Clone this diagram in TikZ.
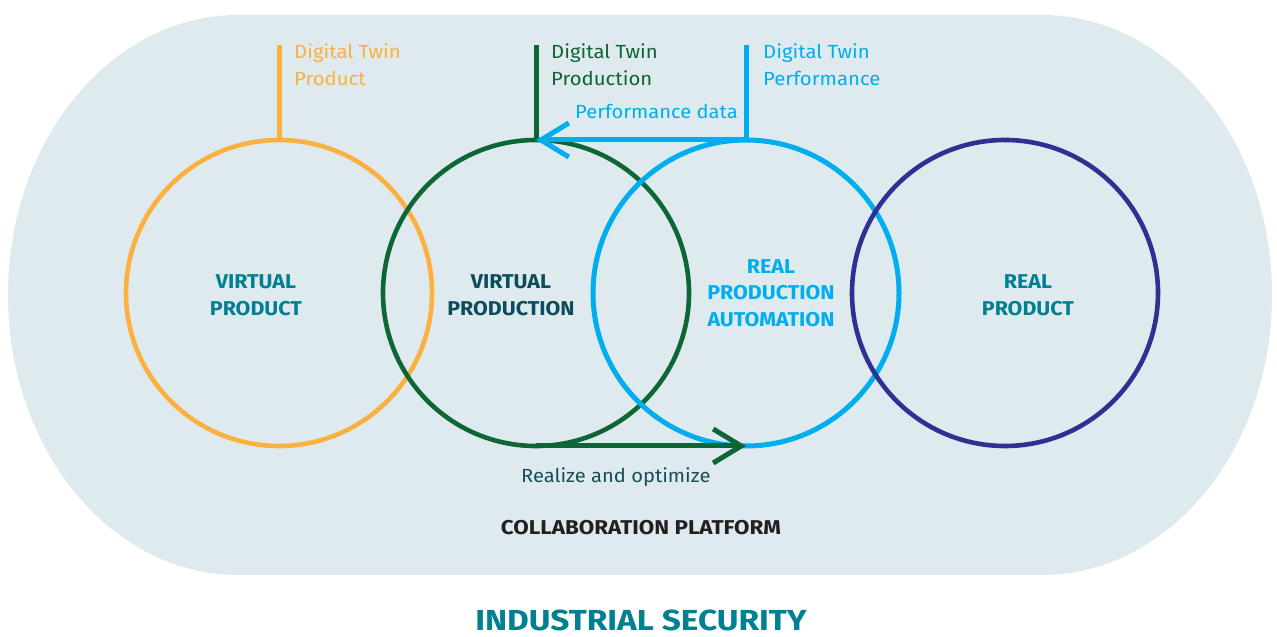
\documentclass[tikz,border=0pt]{standalone}
\usepackage{fontspec}
\setmainfont{Fira Sans}
\usetikzlibrary{arrows.meta}
\definecolor{bgc}{HTML}{DFEAEE}
\definecolor{orng}{HTML}{FBB040}
\definecolor{grn}{HTML}{0E6536}
\definecolor{lblue}{HTML}{00AEEF}
\definecolor{navy}{HTML}{2E3192}
\definecolor{teal}{HTML}{008091}
\definecolor{dteal}{HTML}{0B4D5A}
\definecolor{rteal}{HTML}{184E5A}
\definecolor{dark}{HTML}{231F20}
\tikzset{
  ring/.style={line width=4.6pt},
  stem/.style={line width=5pt},
  twinlabel/.style={anchor=north west, inner sep=0pt, align=left, font=\fontsize{19}{27}\selectfont\addfontfeatures{FakeStretch=1.07}},
  smalltext/.style={inner sep=0pt, font=\fontsize{19}{23}\selectfont\addfontfeatures{FakeStretch=1.06}},
  biglabel/.style={inner sep=0pt, align=center, font=\fontsize{20}{26.5}\selectfont\bfseries\addfontfeatures{FakeStretch=1.07}},
  arr/.style={line width=5pt, -{Straight Barb[length=28pt,width=34pt,line width=5pt]}},
}
\begin{document}
\begin{tikzpicture}[x=1pt,y=1pt]
\useasboundingbox (0,0) rectangle (1277,637);
% platform
\fill[bgc] (238,622) -- (1042,622) arc[start angle=90,end angle=-90,x radius=230,y radius=280]
  -- (238,62) arc[start angle=-90,end angle=-270,x radius=230,y radius=280] -- cycle;
% anchor coordinates
\coordinate (otop) at (279,497);
\coordinate (gtop) at (536,497);
\coordinate (btop) at (746,497);
\coordinate (gbot) at (536,191);
\coordinate (bbot) at (746,191);
\coordinate (oend) at (279,592);
\coordinate (gend) at (536,592);
\coordinate (bend) at (746,592);
% circles
\draw[ring, orng] (279,344) circle[radius=153];
\draw[ring, grn] (536,344) circle[radius=153];
\draw[ring, lblue, line width=5pt] (746,344) circle[radius=153];
\draw[ring, navy] (1005,344) circle[radius=153];
% stems
\draw[stem, orng] (otop) -- (oend);
\draw[stem, grn] (gtop) -- (gend);
\draw[stem, lblue] (btop) -- (bend);
% arrows
\draw[arr, lblue] (btop) -- (gtop);
\draw[arr, grn] (gbot) -- (bbot);
% twin labels
\node[twinlabel, text=orng] (tp) at (294,594) {Digital Twin\\Product};
\node[twinlabel, text=grn] (tpr) at (551,594) {Digital Twin\\Production};
\node[twinlabel, text=lblue] (tpe) at (763,594) {Digital Twin\\Performance};
\node[smalltext, anchor=base west, text=lblue] (pd) at (575,518) {Performance data};
\node[smalltext, anchor=base west, text=rteal] (ro) at (521,154) {Realize and optimize};
% circle labels
\node[biglabel, text=teal] (vp) at (256,342) {VIRTUAL\\PRODUCT};
\node[biglabel, text=dteal] (vpn) at (511,342) {VIRTUAL\\PRODUCTION};
\node[biglabel, text=lblue] (rpa) at (771,344) {REAL\\PRODUCTION\\AUTOMATION};
\node[biglabel, text=teal] (rp) at (1028,342) {REAL\\PRODUCT};
% bottom labels
\node[anchor=base, inner sep=0pt, text=dark, font=\fontsize{20}{23}\selectfont\bfseries\addfontfeatures{FakeStretch=1.12}] (cp) at (641,102) {COLLABORATION PLATFORM};
\node[anchor=base, inner sep=0pt, text=teal, font=\fontsize{29}{32}\selectfont\bfseries\addfontfeatures{FakeStretch=1.15}] (is) at (641,6) {INDUSTRIAL SECURITY};
\end{tikzpicture}
\end{document}
